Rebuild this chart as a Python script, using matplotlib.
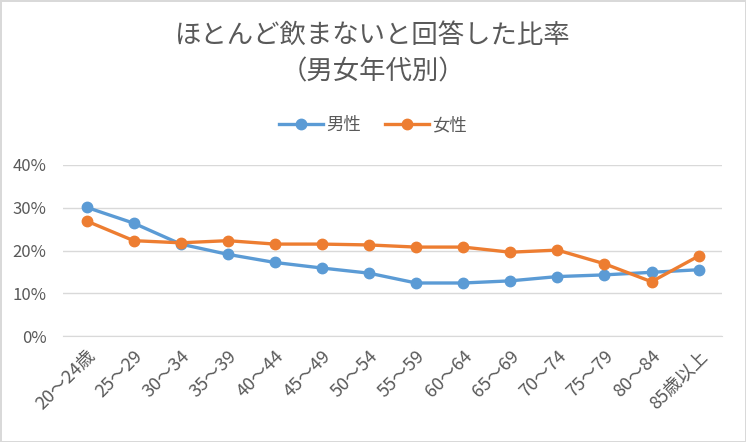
import matplotlib
matplotlib.use("Agg")
import matplotlib.pyplot as plt
from matplotlib.ticker import PercentFormatter

plt.rcParams['font.family'] = ['Noto Sans CJK JP', 'DejaVu Sans']

# age groups
categories = ['20～24歳', '25～29', '30～34', '35～39', '40～44', '45～49', '50～54',
              '55～59', '60～64', '65～69', '70～74', '75～79', '80～84', '85歳以上']
# share answering "hardly drink" (fraction)
male = [0.301, 0.264, 0.215, 0.191, 0.172, 0.159, 0.147,
        0.124, 0.124, 0.129, 0.139, 0.143, 0.149, 0.155]
female = [0.269, 0.223, 0.218, 0.223, 0.215, 0.215, 0.213,
          0.208, 0.208, 0.196, 0.201, 0.169, 0.127, 0.187]

text_color = '#595959'
grid_color = '#d9d9d9'

fig = plt.figure(figsize=(7.46, 4.42), dpi=100)
fig.patch.set_facecolor('white')
fig.patch.set_edgecolor('#d9d9d9')
fig.patch.set_linewidth(2)

ax = fig.add_axes([0.0845, 0.2398, 0.8835, 0.3869])
x = range(len(categories))
ax.plot(x, male, color='#5b9bd5', lw=2.4, marker='o', ms=7.5, label='男性', zorder=3)
ax.plot(x, female, color='#ed7d31', lw=2.4, marker='o', ms=7.5, label='女性', zorder=3)

ax.set_xlim(-0.5, len(categories) - 0.5)
ax.set_ylim(0, 0.4)
ax.set_yticks([0, 0.1, 0.2, 0.3, 0.4])
ax.yaxis.set_major_formatter(PercentFormatter(1.0, decimals=0))
ax.grid(axis='y', color=grid_color, lw=1)
ax.set_axisbelow(True)
for s in ax.spines.values():
    s.set_visible(False)
ax.spines['bottom'].set_visible(True)
ax.spines['bottom'].set_color(grid_color)
ax.tick_params(length=0, colors=text_color)
ax.tick_params(axis='y', pad=12, labelsize=12)
ax.set_xticks(list(x))
ax.set_xticklabels(categories, rotation=45, ha='right', rotation_mode='anchor')
ax.tick_params(axis='x', pad=8, labelsize=13)

fig.text(0.5, 0.92, 'ほとんど飲まないと回答した比率', ha='center', va='center',
         fontsize=19, color=text_color)
fig.text(0.5, 0.837, '（男女年代別）', ha='center', va='center',
         fontsize=19, color=text_color)

leg = fig.legend(loc='center', bbox_to_anchor=(0.5, 0.717), ncol=2, frameon=False,
                 fontsize=12.5, handlelength=2.5, columnspacing=1.4, handletextpad=0.2)
for t in leg.get_texts():
    t.set_color(text_color)

fig.savefig('out.png', dpi=100, facecolor=fig.get_facecolor(), edgecolor=fig.get_edgecolor())
